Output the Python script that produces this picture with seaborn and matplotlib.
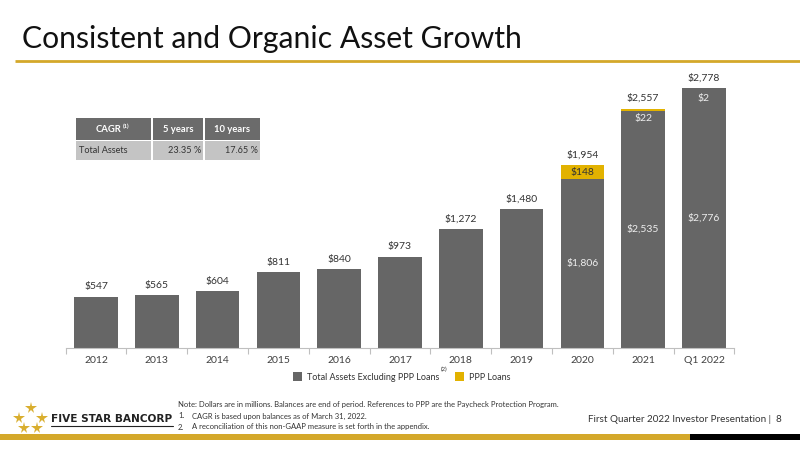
import matplotlib
matplotlib.use("Agg")
import matplotlib.pyplot as plt
from matplotlib.patches import Rectangle
import seaborn as sns
import pandas as pd
import numpy as np

# ---- data ----
periods = ["2012", "2013", "2014", "2015", "2016", "2017", "2018", "2019", "2020", "2021", "Q1 2022"]
excl_ppp = [547, 565, 604, 811, 840, 973, 1272, 1480, 1806, 2535, 2776]
ppp_loans = [0, 0, 0, 0, 0, 0, 0, 0, 148, 22, 2]
cagr_header = ["CAGR", "5 years", "10 years"]
cagr_row = ["Total Assets", "23.35 %", "17.65 %"]

GRAY = "#666666"
GOLD = "#E2B200"
LINEGOLD = "#D4A82A"
FONT = "Lato"

sns.set_theme(style="white")
plt.rcParams["font.family"] = [FONT, "DejaVu Sans"]

df = pd.DataFrame({"period": periods, "excl": excl_ppp, "ppp": ppp_loans})
df["total"] = df["excl"] + df["ppp"]

fig = plt.figure(figsize=(8, 4.49), dpi=100)
fig.patch.set_facecolor("white")

ax = fig.add_axes([65.6 / 800, 1 - 348 / 449, (734.4 - 65.6) / 800, 280.8 / 449])
sns.barplot(data=df, x="period", y="total", color=GOLD, saturation=1, width=0.72, ax=ax, linewidth=0)
sns.barplot(data=df, x="period", y="excl", color=GRAY, saturation=1, width=0.72, ax=ax, linewidth=0)
ax.set_xlim(-0.5, len(periods) - 0.5)
ax.set_ylim(0, 3000)
ax.set_xlabel("")
ax.set_ylabel("")
ax.set_yticks([])
for s in ["top", "right", "left"]:
    ax.spines[s].set_visible(False)
ax.spines["bottom"].set_color("#bfbfbf")
ax.spines["bottom"].set_linewidth(0.8)
ax.set_xticks(np.arange(len(periods)))
ax.set_xticklabels(periods, fontsize=7.5, color="#404040")
ax.set_xticks(np.arange(len(periods) + 1) - 0.5, minor=True)
ax.tick_params(axis="x", which="major", length=0, pad=6)
ax.tick_params(axis="x", which="minor", length=4, color="#bfbfbf", width=0.8, bottom=True)

# value labels
for i, row in df.iterrows():
    ax.annotate(f"${row.total:,}", (i, row.total), xytext=(0, 4), textcoords="offset points",
                ha="center", va="bottom", fontsize=7.5, color="#333333")
    if row.ppp > 0:
        ax.text(i, row.excl / 2, f"${row.excl:,}", ha="center", va="center", fontsize=7.5, color="#eeeeee")
        if row.ppp > 60:
            ax.text(i, row.excl + row.ppp / 2, f"${row.ppp:,}", ha="center", va="center",
                    fontsize=7.5, color="#333333")
        else:
            ax.annotate(f"${row.ppp:,}", (i, row.total), xytext=(0, -4), textcoords="offset points",
                        ha="center", va="top", fontsize=7.5, color="#eeeeee")

# ---- decorations in pixel coordinates ----
ov = fig.add_axes([0, 0, 1, 1])
ov.set_xlim(0, 800)
ov.set_ylim(449, 0)
ov.axis("off")
ov.patch.set_alpha(0)

ov.text(22, 39, "Consistent and Organic Asset Growth", fontsize=21.7, color="#111111", va="center", ha="left")
ov.plot([15, 800], [61, 61], color=LINEGOLD, lw=2, solid_capstyle="butt")

# table
cols = [(76, 151), (153, 203), (205, 260)]
for (x0, x1) in cols:
    ov.add_patch(Rectangle((x0, 118), x1 - x0, 22, color="#6b6b6b", lw=0))
    ov.add_patch(Rectangle((x0, 141), x1 - x0, 19, color="#c4c4c4", lw=0))
ov.text(108, 129.5, cagr_header[0], fontsize=6.8, fontweight="bold", color="white", ha="center", va="center")
ov.text(123, 126.5, "(1)", fontsize=4.2, fontweight="bold", color="white", ha="left", va="center")
ov.text(178, 129.5, cagr_header[1], fontsize=6.8, fontweight="bold", color="white", ha="center", va="center")
ov.text(232.5, 129.5, cagr_header[2], fontsize=6.8, fontweight="bold", color="white", ha="center", va="center")
ov.text(79, 150.5, cagr_row[0], fontsize=6.6, color="#333333", ha="left", va="center")
ov.text(201, 150.5, cagr_row[1], fontsize=6.6, color="#333333", ha="right", va="center")
ov.text(258, 150.5, cagr_row[2], fontsize=6.6, color="#333333", ha="right", va="center")

# legend
ov.add_patch(Rectangle((293, 372), 9, 9, color=GRAY, lw=0))
ov.text(307, 377, "Total Assets Excluding PPP Loans", fontsize=6.5, color="#333333", ha="left", va="center")
ov.text(441, 369.5, "(2)", fontsize=4.2, color="#333333", ha="left", va="center")
ov.add_patch(Rectangle((455, 372), 9, 9, color=GOLD, lw=0))
ov.text(469, 377, "PPP Loans", fontsize=6.5, color="#333333", ha="left", va="center")

# footer
for (sx, sy) in [(31, 408), (19, 417.5), (42, 417.5), (24, 428), (37, 428)]:
    ov.plot(sx, sy, marker="*", markersize=8.5, color="#D9AE2E", markeredgewidth=0)
ov.text(51, 419, "FIVE STAR BANCORP", fontsize=7.6, fontweight="bold", color="#222222", ha="left", va="center",
        family="DejaVu Sans")
ov.plot([51, 173], [425.5, 425.5], color="#222222", lw=0.8)
ov.text(178, 405, "Note: Dollars are in millions. Balances are end of period. References to PPP are the Paycheck Protection Program.",
        fontsize=5.5, color="#333333", ha="left", va="center")
ov.text(178, 416, "1.", fontsize=5.5, color="#333333", ha="left", va="center")
ov.text(192, 416, "CAGR is based upon balances as of March 31, 2022.", fontsize=5.5, color="#333333", ha="left", va="center")
ov.text(178, 427, "2.", fontsize=5.5, color="#333333", ha="left", va="center")
ov.text(192, 427, "A reconciliation of this non-GAAP measure is set forth in the appendix.", fontsize=5.5, color="#333333", ha="left", va="center")
ov.text(782, 420, "First Quarter 2022 Investor Presentation |  8", fontsize=7.1, color="#333333", ha="right", va="center")
ov.add_patch(Rectangle((0, 434), 690, 6, color=LINEGOLD, lw=0))
ov.add_patch(Rectangle((690, 434), 110, 6, color="black", lw=0))

fig.savefig("out.png", dpi=100)
